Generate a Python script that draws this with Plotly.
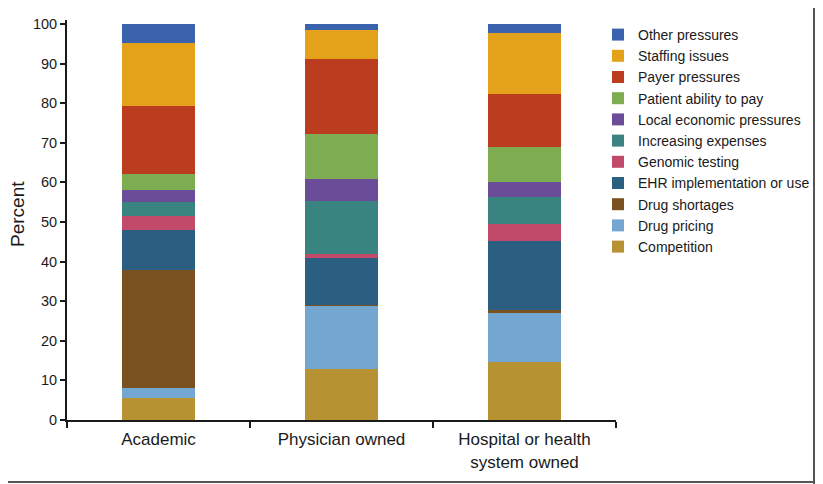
import plotly.graph_objects as go

categories = ["Academic", "Physician owned", "Hospital or health<br>system owned"]

# series listed from bottom of stack to top
series_names = [
    "Competition", "Drug pricing", "Drug shortages", "EHR implementation or use",
    "Genomic testing", "Increasing expenses", "Local economic pressures",
    "Patient ability to pay", "Payer pressures", "Staffing issues", "Other pressures",
]
competition = [5.5, 13.0, 14.6]
drug_pricing = [2.7, 15.9, 12.3]
drug_shortages = [29.6, 0.2, 0.8]
ehr = [10.3, 11.8, 17.4]
genomic = [3.4, 0.9, 4.4]
increasing_expenses = [3.5, 13.4, 6.9]
local_economic = [3.2, 5.7, 3.6]
patient_ability = [3.8, 11.3, 9.0]
payer = [17.2, 18.9, 13.4]
staffing = [16.1, 7.4, 15.3]
other = [4.7, 1.5, 2.3]

series_values = [competition, drug_pricing, drug_shortages, ehr, genomic,
                 increasing_expenses, local_economic, patient_ability, payer,
                 staffing, other]
colors = ["#B69233", "#74A6D2", "#795220", "#2A5F82", "#C04A67", "#398380",
          "#6B4C99", "#7EAC50", "#BC3C1F", "#E4A21A", "#3B63AD"]

y_ticks = [0, 10, 20, 30, 40, 50, 60, 70, 80, 90, 100]

fig = go.Figure()
for name, vals, col in zip(series_names, series_values, colors):
    fig.add_trace(go.Bar(x=categories, y=vals, name=name,
                         marker=dict(color=col, line=dict(width=0)),
                         width=0.4))

# page body has an 8px margin, so the figure is sized/offset to compensate
W, H = 815, 476
ml, mr, mt, mb = 59, 207, 12, 64
pw = W - ml - mr
ph = H - mt - mb

def px_x(v):
    return (v - ml) / pw

def px_y(v):
    return 1 - (v - mt) / ph

fig.update_layout(
    width=W, height=H,
    margin=dict(l=ml, r=mr, t=mt, b=mb, autoexpand=False),
    barmode="stack",
    plot_bgcolor="white", paper_bgcolor="white",
    font=dict(family="Liberation Sans, Arial, sans-serif", size=15, color="#1a1a1a"),
    showlegend=True,
    legend=dict(traceorder="reversed", x=px_x(590), y=px_y(11),
                xanchor="left", yanchor="top", font=dict(size=14),
                bgcolor="rgba(0,0,0,0)", borderwidth=0, itemclick=False),
    xaxis=dict(showline=True, linecolor="#1a1a1a", linewidth=2,
               ticks="outside", ticklen=6, tickwidth=1.5, tickcolor="#1a1a1a",
               tickson="boundaries", showgrid=False, zeroline=False,
               tickfont=dict(size=17), automargin=False, ticklabelstandoff=3),
    yaxis=dict(range=[0, 101], showline=True, linecolor="#1a1a1a", linewidth=2,
               ticks="outside", ticklen=5, tickwidth=1.5, tickcolor="#1a1a1a",
               tickvals=y_ticks, showgrid=False, zeroline=False,
               tickfont=dict(size=14.5), automargin=False),
    annotations=[dict(text="Percent", textangle=-90, xref="paper", yref="paper",
                      x=px_x(9), y=px_y(206), xanchor="center", yanchor="middle",
                      showarrow=False, font=dict(size=19))],
    shapes=[
        dict(type="line", xref="paper", yref="paper", layer="above",
             x0=px_x(806), x1=px_x(806), y0=px_y(H), y1=px_y(0),
             line=dict(color="#555555", width=2)),
        dict(type="line", xref="paper", yref="paper", layer="above",
             x0=px_x(0), x1=px_x(807), y0=px_y(474), y1=px_y(474),
             line=dict(color="#555555", width=2)),
    ],
)

fig.write_html("out.html")
